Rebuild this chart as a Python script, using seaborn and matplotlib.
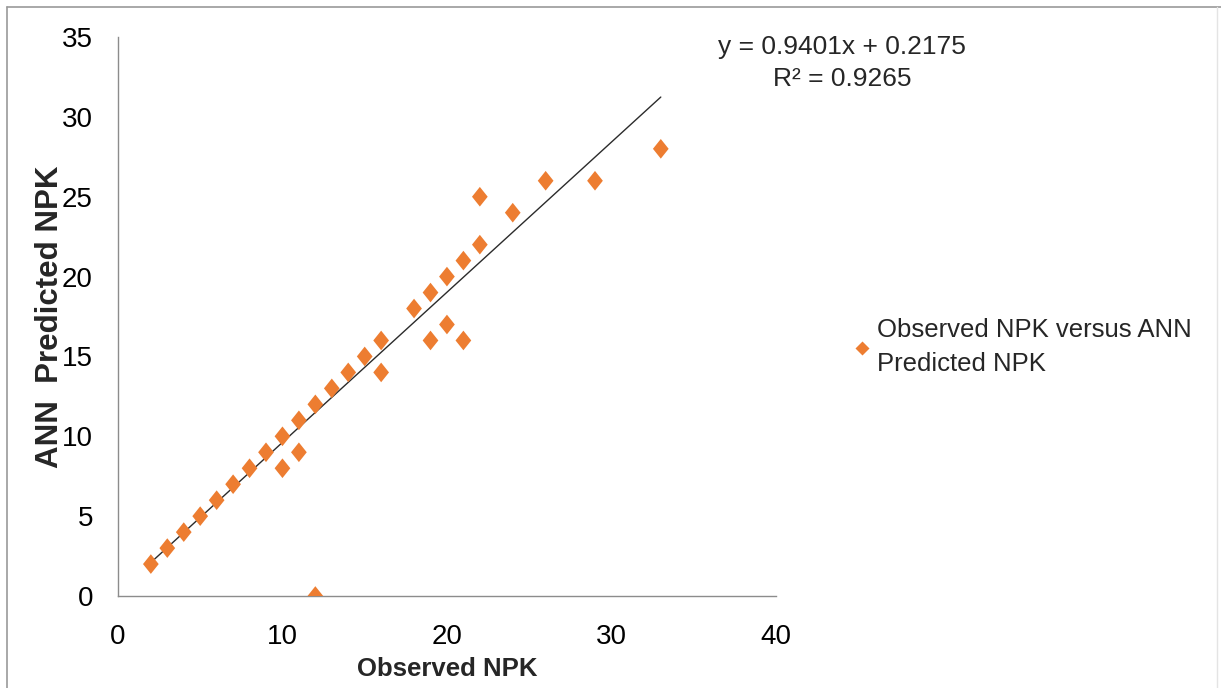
import matplotlib
matplotlib.use("Agg")
import matplotlib.pyplot as plt
import seaborn as sns
import pandas as pd
from matplotlib.lines import Line2D

# Observed vs ANN-predicted NPK values
observed = [2, 3, 4, 5, 6, 7, 8, 9, 10, 10, 11, 11, 12, 12, 13, 14, 15, 16, 16,
            18, 19, 19, 20, 20, 21, 21, 22, 22, 24, 26, 29, 33]
predicted = [2, 3, 4, 5, 6, 7, 8, 9, 10, 8, 11, 9, 12, 0, 13, 14, 15, 16, 14,
             18, 19, 16, 20, 17, 21, 16, 22, 25, 24, 26, 26, 28]

# Linear trendline coefficients
slope = 0.9401
intercept = 0.2175
r_squared = 0.9265

series_label = "Observed NPK versus ANN\nPredicted NPK"
x_ticks = [0, 10, 20, 30, 40]
y_ticks = [0, 5, 10, 15, 20, 25, 30, 35]

sns.set_theme(style="white")
fonts = ["Liberation Sans", "DejaVu Sans"]
plt.rcParams["font.family"] = fonts

orange = "#ED7D31"
axis_grey = "#8C8C8C"

df = pd.DataFrame({"Observed NPK": observed, "ANN Predicted NPK": predicted})

fig = plt.figure(figsize=(12.21, 6.88), dpi=100)
ax = fig.add_axes([0.0966, 0.1337, 0.5389, 0.8125])

diamond = [(0, 1), (0.8, 0), (0, -1), (-0.8, 0), (0, 1)]
sns.scatterplot(data=df, x="Observed NPK", y="ANN Predicted NPK", ax=ax,
                marker=diamond, s=200, color=orange, edgecolor="none",
                linewidth=0, legend=False, zorder=3)

# Trendline over the observed range
x_line = pd.Series([min(observed), max(observed)], dtype=float)
sns.lineplot(x=x_line, y=slope * x_line + intercept, ax=ax, color="#2b2b2b",
             linewidth=1.0, zorder=2, legend=False)

ax.set_xlim(0, 40)
ax.set_ylim(0, 35)
ax.set_xticks(x_ticks)
ax.set_yticks(y_ticks)
ax.tick_params(axis="both", which="major", direction="out", length=5,
               width=1, color=axis_grey, labelsize=20, labelcolor="black")
ax.tick_params(axis="x", pad=15)
ax.tick_params(axis="y", pad=13)
for side in ("top", "right"):
    ax.spines[side].set_visible(False)
for side in ("left", "bottom"):
    ax.spines[side].set_color(axis_grey)
    ax.spines[side].set_linewidth(1.0)

ax.set_xlabel("Observed NPK", fontsize=18.5, fontweight="bold", labelpad=5)
ax.set_ylabel("ANN  Predicted NPK", fontsize=22.5, fontweight="bold",
              labelpad=-2)

# Trendline equation and R²
fig.text(842 / 1221, 1 - 63 / 688,
         f"y = {slope:.4f}x + {intercept:.4f}\nR² = {r_squared:.4f}",
         ha="center", va="center", fontsize=19, linespacing=1.38,
         family=fonts)

# Legend placed right of the plot
handle = Line2D([], [], marker="D", linestyle="none", markersize=7.5,
                markerfacecolor=orange, markeredgecolor="none")
leg = fig.legend([handle], [series_label], loc="center left",
                 bbox_to_anchor=(845 / 1221, 1 - 347 / 688), frameon=False,
                 fontsize=18.5, handlelength=0.5, handletextpad=0.35,
                 borderaxespad=0)
for txt in leg.get_texts():
    txt.set_linespacing(1.55)

# Thin frame around the chart area
fig.add_artist(Line2D([7 / 1221, 7 / 1221], [0, 1 - 7 / 688],
                      transform=fig.transFigure, color="#9a9a9a", lw=1.2))
fig.add_artist(Line2D([7 / 1221, 1], [1 - 7 / 688, 1 - 7 / 688],
                      transform=fig.transFigure, color="#9a9a9a", lw=1.2))
fig.add_artist(Line2D([1217 / 1221, 1217 / 1221], [0, 1 - 7 / 688],
                      transform=fig.transFigure, color="#e4e4e4", lw=1.0))

fig.savefig("out.png", dpi=100)
